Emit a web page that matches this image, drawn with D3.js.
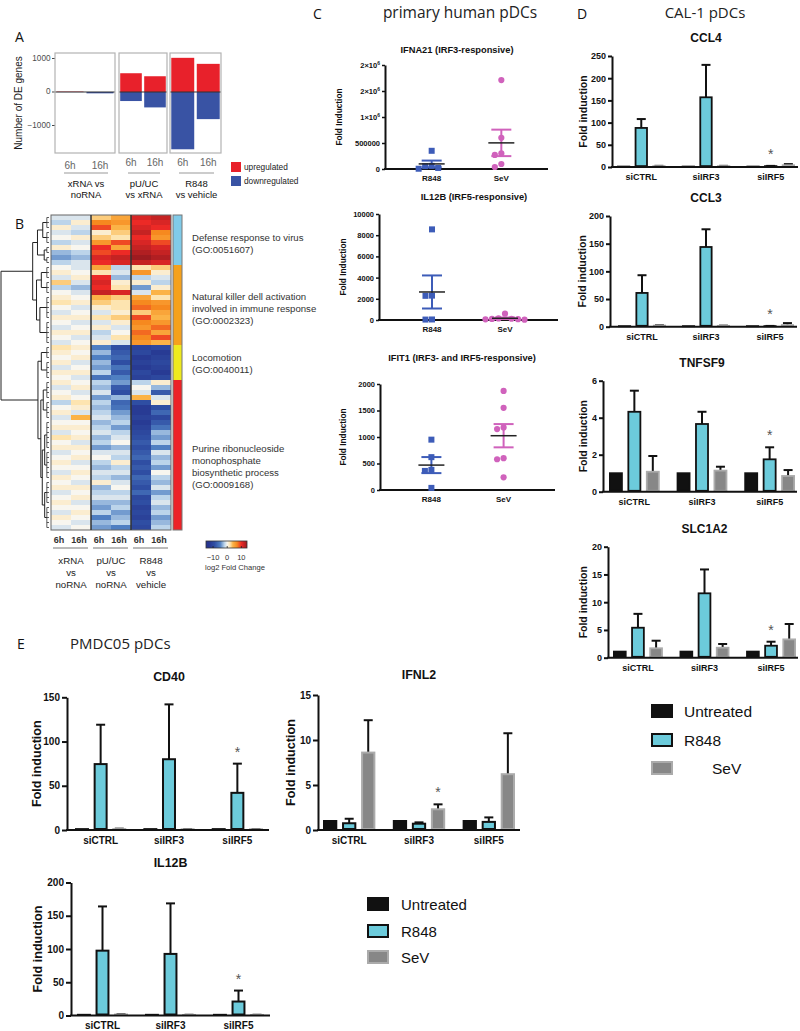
<!DOCTYPE html>
<html><head><meta charset="utf-8">
<script src="https://cdn.jsdelivr.net/npm/d3@7"></script>
<style>html,body{margin:0;padding:0;background:#fff}</style>
</head><body>
<svg id="fig" width="800" height="1031" xmlns="http://www.w3.org/2000/svg"></svg>
<script>
// ===================== DATA =====================
// Panel A
const aFacetLabels = [["xRNA vs","noRNA"],["pU/UC","vs xRNA"],["R848","vs vehicle"]];
const aTimes = ["6h","16h"];
const aUp = [[12,0],[560,470],[1020,840]];
const aDown = [[-4,-40],[-270,-460],[-1710,-810]];
const aTicks = [1000,0,-1000];
const aLegend = ["upregulated","downregulated"];

// Panel B (log2 fold change; columns: xRNA 6h,16h, pU/UC 6h,16h, R848 6h,16h)
const hmColLabels = ["6h","16h","6h","16h","6h","16h"];
const hmGroupLabels = [["xRNA","vs","noRNA"],["pU/UC","vs","noRNA"],["R848","vs","vehicle"]];
const hmRows = [
 [-1,-1,3,5,11,12],[-2,1,7,6,10,11],[1,-1,9,4,11,10],[-1,-2,1,3,12,7],[0,1,3,2,10,6],
 [-2,-1,6,9,11,9],[1,0,10,5,12,11],[-3,-2,9,10,13,12],[-4,-3,11,12,14,13],[-2,-1,10,11,12,11],
 [0,-1,5,-2,2,3],[1,0,2,-1,6,1],[-1,1,10,-3,-2,-1],[3,-1,11,1,1,-2],[-2,-3,10,2,-4,1],
 [0,-1,12,11,-1,4],[1,0,4,3,5,2],[2,1,3,2,7,6],[0,-1,1,2,8,7],[-1,0,-1,1,3,5],
 [1,1,2,3,9,4],[0,-1,-1,1,7,6],[-1,0,1,-1,6,8],[1,1,-2,0,8,5],[0,-1,-1,2,7,9],[-1,0,1,-1,6,4],
 [2,1,-5,-9,-11,-10],[1,0,-3,-8,-10,-12],[0,1,-5,-7,-12,-11],[1,-1,-3,-9,-11,-10],
 [-1,0,-4,-6,-12,-11],[1,1,-2,-8,-10,-12],[0,-1,-6,-5,-11,-10],
 [1,0,-2,-4,-2,1],[-1,1,-3,-8,0,-3],[0,-1,-1,-9,-1,-8],[1,0,-4,-3,4,-1],[-2,2,-2,-7,-9,1],
 [0,1,-3,-6,-12,-9],[1,-1,-2,-4,-12,-7],[-1,4,-1,-3,-11,-10],[0,0,-3,-2,-12,-8],[1,1,-2,-4,-11,-6],
 [-1,0,-1,-2,-10,-3],[2,1,-3,-1,-9,-4],[0,-1,-2,0,-8,-2],[1,1,-4,-3,-9,-5],[-1,0,-1,-1,-8,-1],
 [0,1,0,-2,-7,-3],[1,-1,-2,1,-9,-2],[0,0,-3,-2,-8,-4],[-1,1,-1,-1,-9,0],[1,0,-2,-3,-7,-2],
 [0,-1,1,-1,-8,-3],[1,1,-3,0,-9,-1],[-1,0,-2,-2,-7,-4],[0,1,-1,-1,-10,-2],[1,-1,-3,-3,-9,-1],
 [0,0,-4,-2,-11,-3],[-1,1,-2,-4,-10,-2],[1,0,-5,-3,-11,-4],[0,-1,-3,-2,-9,-3],[-1,0,-4,-5,-10,-2]
];
const clusterSizes = [10,16,7,30];
const goTerms = [
 ["Defense response to virus","(GO:0051607)"],
 ["Natural killer dell activation","involved in immune response","(GO:0002323)"],
 ["Locomotion","(GO:0040011)"],
 ["Purine ribonucleoside","monophosphate","biosynthetic process","(GO:0009168)"]
];
const cbTicks = [-10,0,10];
// dendrogram structure: {h: merge height, c: children}; leaf = [firstRow,lastRow]
const dendro = {h:10,c:[
 {h:3.4,c:[
   {h:2.4,c:[{h:1.3,c:[[0,2],[3,5]]},{h:1.0,c:[[6,7],[8,9]]}]},
   {h:2.6,c:[{h:1.6,c:[[10,12],[13,15]]},{h:1.9,c:[[16,20],[21,25]]}]}]},
 {h:2.3,c:[
   {h:1.6,c:[[26,28],[29,32]]},
   {h:1.7,c:[{h:1.2,c:[[33,36],[37,40]]},{h:1.4,c:[{h:0.9,c:[[41,46],[47,52]]},{h:0.9,c:[[53,57],[58,62]]}]}]}]}
]};

// Panel C
const cCats = ["R848","SeV"];
const ifna21R848 = [350000,60000,55000,20000,5000];
const ifna21SeV = [1710000,600000,300000,270000,96000,38000];
const ifna21Ticks = [0,500000,1000000,1500000,2000000];
const ifna21TickLabels = ["0","500000","1×10^6","2×10^6","2×10^6"];
const il12bCR848 = [8550,2300,2280,50,40];
const il12bCSeV = [600,150,120,100,80,60,30];
const il12bCTicks = [0,2000,4000,6000,8000,10000];
const ifit1R848 = [950,620,380,360,40];
const ifit1SeV = [1870,1550,1180,1150,600,580,240];
const ifit1Ticks = [0,500,1000,1500,2000];

// Panels D & E (rows: siCTRL, siIRF3, siIRF5; cols: Untreated, R848, SeV)
const barGroups = ["siCTRL","siIRF3","siIRF5"];
const barSeries = ["Untreated","R848","SeV"];
const ccl4Mean = [[1,88,2],[1,157,2],[1,2,4]];
const ccl4Err  = [[0,20,0.6],[0,73,0.6],[0,0.5,2.5]];
const ccl4Ticks = [0,50,100,150,200,250];
const ccl3Mean = [[1,61,2],[1,144,1.5],[1,1,3]];
const ccl3Err  = [[0,32,0.5],[0,32,0.4],[0,0.4,3.5]];
const ccl3Ticks = [0,50,100,150,200];
const tnfsf9Mean = [[1,4.32,1.08],[1,3.66,1.14],[1,1.75,0.85]];
const tnfsf9Err  = [[0,1.14,0.85],[0,0.66,0.21],[0,0.65,0.32]];
const tnfsf9Ticks = [0,2,4,6];
const slc1a2Mean = [[1.1,5.4,1.7],[1.1,11.6,1.8],[1.1,2.16,3.3]];
const slc1a2Err  = [[0,2.5,1.36],[0,4.3,0.67],[0,0.72,2.77]];
const slc1a2Ticks = [0,5,10,15,20];
const cd40Mean = [[1,74.5,1],[1,80,0.8],[1,42,0.8]];
const cd40Err  = [[0,44.5,0.5],[0,62,0.3],[0,33,0.3]];
const cd40Ticks = [0,50,100,150];
const ifnl2Mean = [[1,0.75,8.6],[1,0.7,2.3],[1,0.9,6.2]];
const ifnl2Err  = [[0,0.5,3.6],[0,0.15,0.55],[0,0.5,4.55]];
const ifnl2Ticks = [0,5,10,15];
const il12bEMean = [[1,97.5,1.5],[1,92.6,0.8],[1,21,0.8]];
const il12bEErr  = [[0,66.5,0.5],[0,76,0.3],[0,16.5,0.3]];
const il12bETicks = [0,50,100,150,200];

// ===================== DRAWING =====================
const svg = d3.select("#fig");
const FONT = '"Liberation Sans", Arial, Helvetica, sans-serif';
const TFONT = '"Open Sans", "Noto Sans", sans-serif';

function T(g, x, y, s, o = {}) {
  const t = g.append("text").attr("x", x).attr("y", y).text(s)
    .attr("font-family", o.family || FONT).attr("font-size", o.size || 10)
    .attr("font-weight", o.weight || "normal").attr("fill", o.fill || "#111")
    .attr("text-anchor", o.anchor || "start").attr("dominant-baseline", "central");
  if (o.rotate) t.attr("transform", `rotate(-90,${x},${y})`);
  return t;
}
function L(g, x1, y1, x2, y2, stroke, w) {
  return g.append("line").attr("x1", x1).attr("y1", y1).attr("x2", x2).attr("y2", y2)
    .attr("stroke", stroke).attr("stroke-width", w);
}

// ---------- Panel A ----------
(function () {
  const g = svg.append("g");
  T(g, 15, 36, "A", {size: 14, family: TFONT});
  const y = d3.scaleLinear().domain([-1821, 1164]).range([153, 53]);
  const facetX = [[55, 115], [119, 167], [170, 221]];
  aTicks.forEach(v => {
    L(g, 52, y(v), 55, y(v), "#444", 1);
    T(g, 50.5, y(v), v < 0 ? "\u2212" + Math.abs(v) : String(v), {size: 8.2, anchor: "end", fill: "#4d4d4d"});
  });
  T(g, 18, 103, "Number of DE genes", {size: 10, anchor: "middle", rotate: true, fill: "#1a1a1a"});
  aFacetLabels.forEach((lab, fi) => {
    const [x0, x1] = facetX[fi];
    const xb = d3.scaleBand().domain(aTimes).range([x0, x1]).paddingInner(0.1).paddingOuter(0.05);
    const recs = aTimes.map((t, ti) => ({t, up: aUp[fi][ti], down: aDown[fi][ti]}));
    g.selectAll(null).data(recs).join("rect")
      .attr("x", d => xb(d.t)).attr("width", xb.bandwidth())
      .attr("y", d => y(d.up)).attr("height", d => y(0) - y(d.up)).attr("fill", "#e8212b");
    g.selectAll(null).data(recs).join("rect")
      .attr("x", d => xb(d.t)).attr("width", xb.bandwidth())
      .attr("y", y(0)).attr("height", d => y(d.down) - y(0)).attr("fill", "#3953a4");
    L(g, x0, y(0), x1, y(0), "#333", 1);
    g.append("rect").attr("x", x0).attr("y", 53).attr("width", x1 - x0).attr("height", 100)
      .attr("fill", "none").attr("stroke", "#b3b3b3").attr("stroke-width", 1.2);
    aTimes.forEach(t => T(g, xb(t) + xb.bandwidth() / 2, fi === 0 ? 165 : 162, t, {size: 10, anchor: "middle", fill: "#666"}));
    L(g, x0 + 9, 173, x1 - 7, 173, "#999", 1);
    lab.forEach((s, li) => T(g, (x0 + x1) / 2 + 1, 183 + li * 11, s, {size: 9.5, anchor: "middle", fill: "#111"}));
  });
  const lc = ["#e8212b", "#3953a4"];
  aLegend.forEach((s, i) => {
    g.append("rect").attr("x", 231).attr("y", 162 + i * 14).attr("width", 10).attr("height", 10).attr("fill", lc[i]);
    T(g, 244, 167 + i * 14, s, {size: 8.3, fill: "#222"});
  });
})();

// ---------- Panel B ----------
const hmColor = d3.scaleLinear()
  .domain([-13, -9, -5, -2, 0, 2, 4, 7, 10, 14])
  .range(["#26358f", "#2f4ea3", "#4f7fc2", "#bcd4ea", "#f8f6ef", "#fde4b0", "#fbb347", "#f6891f", "#ec2a26", "#9d1b20"])
  .clamp(true);
(function () {
  const g = svg.append("g");
  T(g, 15, 223, "B", {size: 14, family: TFONT});
  const hmX = d3.scaleBand().domain(d3.range(hmColLabels.length)).range([51, 171]);
  const hmY = d3.scaleBand().domain(d3.range(hmRows.length)).range([215, 530]);
  const cells = [];
  hmRows.forEach((r, ri) => r.forEach((v, ci) => cells.push({ri, ci, v})));
  g.selectAll(null).data(cells).join("rect")
    .attr("x", d => hmX(d.ci)).attr("y", d => hmY(d.ri))
    .attr("width", hmX.bandwidth() + 0.3).attr("height", hmY.bandwidth() + 0.3)
    .attr("fill", d => hmColor(d.v)).attr("shape-rendering", "crispEdges");
  g.append("rect").attr("x", 51).attr("y", 215).attr("width", 120).attr("height", 315)
    .attr("fill", "none").attr("stroke", "#666").attr("stroke-width", 1);
  [2, 4].forEach(ci => L(g, hmX(ci), 215, hmX(ci), 530, "#333", 1.5));
  // cluster sidebar
  const cColors = ["#80cbe9", "#f5a11c", "#eeea1e", "#ec2227"];
  let start = 0;
  clusterSizes.forEach((n, i) => {
    const y0 = hmY(start), y1 = hmY(start + n - 1) + hmY.bandwidth();
    g.append("rect").attr("x", 173).attr("y", y0).attr("width", 9).attr("height", y1 - y0).attr("fill", cColors[i]);
    start += n;
  });
  g.append("rect").attr("x", 173).attr("y", 215).attr("width", 9).attr("height", 315)
    .attr("fill", "none").attr("stroke", "#777").attr("stroke-width", 1);
  // dendrogram
  const dX = d3.scaleLinear().domain([0, 10]).range([49, 1]);
  const leafH = 0.45;
  const dg = g.append("g").attr("stroke", "#222").attr("stroke-width", 1).attr("fill", "none");
  function drawNode(n) {
    if (Array.isArray(n)) {
      const ys = d3.range(n[0], n[1] + 1).map(i => hmY(i) + hmY.bandwidth() / 2);
      ys.forEach(yy => L(dg, dX(leafH), yy, dX(0), yy, "#333", 0.8));
      L(dg, dX(leafH), ys[0], dX(leafH), ys[ys.length - 1], "#333", 0.8);
      return {y: (ys[0] + ys[ys.length - 1]) / 2, h: leafH};
    }
    const kids = n.c.map(drawNode);
    kids.forEach(k => L(dg, dX(k.h), k.y, dX(n.h), k.y, "#222", 1));
    const ymin = d3.min(kids, k => k.y), ymax = d3.max(kids, k => k.y);
    L(dg, dX(n.h), ymin, dX(n.h), ymax, "#222", 1);
    return {y: (ymin + ymax) / 2, h: n.h};
  }
  drawNode(dendro);
  // GO term labels
  const goY = [237, 296, 357, 448];
  goTerms.forEach((lines, i) => lines.forEach((s, li) => T(g, 192, goY[i] + li * 12, s, {size: 9.6, fill: "#333"})));
  // column labels
  hmColLabels.forEach((s, ci) => T(g, hmX(ci) + hmX.bandwidth() / 2 - 2, 540, s, {size: 9, weight: "bold", anchor: "middle", fill: "#333"}));
  hmGroupLabels.forEach((lines, gi) => {
    const x0 = hmX(gi * 2), x1 = hmX(gi * 2 + 1) + hmX.bandwidth();
    L(g, x0 + 2, 548, x1 - 3, 548, "#777", 1);
    lines.forEach((s, li) => T(g, (x0 + x1) / 2, 560 + li * 12, s, {size: 9.7, anchor: "middle", fill: "#222"}));
  });
  // color bar
  const cbX = d3.scaleLinear().domain([-15, 14]).range([206, 247]);
  const grad = svg.append("defs").append("linearGradient").attr("id", "cbgrad");
  d3.range(-15, 14.01, 0.5).forEach(v => grad.append("stop")
    .attr("offset", (v + 15) / 29).attr("stop-color", hmColor(v)));
  g.append("rect").attr("x", 206).attr("y", 541).attr("width", 41).attr("height", 7)
    .attr("fill", "url(#cbgrad)").attr("stroke", "#333").attr("stroke-width", 0.8);
  cbTicks.forEach(v => {
    L(g, cbX(v), 546, cbX(v), 548, "#222", 0.8);
    T(g, cbX(v), 557, v < 0 ? "\u2212" + Math.abs(v) : String(v), {size: 7.5, anchor: "middle", fill: "#333"});
  });
  T(g, 205, 567, "log2 Fold Change", {size: 7.6, fill: "#333"});
})();

// ---------- Panel C ----------
T(svg, 313, 13, "C", {size: 14, family: TFONT});
T(svg, 460, 12, "primary human pDCs", {size: 15.5, family: TFONT, anchor: "middle", fill: "#222"});
const cColors = ["#3d5cb8", "#d062bc"];
function dodge(vals, y, cx, r) {
  const pts = vals.map(v => ({v, py: y(v)})).sort((a, b) => a.py - b.py);
  const placed = [];
  pts.forEach(p => {
    for (const off of [0, -1, 1, -2, 2, -3, 3, -4, 4]) {
      const px = cx + off * r * 2.1;
      if (!placed.some(q => Math.hypot(q.px - px, q.py - p.py) < r * 2.05)) { p.px = px; placed.push(p); break; }
    }
  });
  return placed;
}
function scatter(s) {
  const g = svg.append("g");
  const y = d3.scaleLinear().domain([0, s.max]).range([s.yZero, s.yTop]);
  const x = d3.scalePoint().domain(cCats).range([s.axisX, s.axisEnd]).padding(s.pad);
  const ax = g.append("g").attr("transform", `translate(${s.axisX},0)`)
    .call(d3.axisLeft(y).tickValues(s.ticks).tickSize(3).tickSizeOuter(0).tickPadding(2)
      .tickFormat((d, i) => s.labels ? s.labels[i] : String(d)));
  ax.select(".domain").attr("stroke", "#111").attr("stroke-width", 2);
  ax.selectAll(".tick line").attr("stroke", "#111").attr("stroke-width", 1.5);
  ax.selectAll(".tick text").attr("font-family", FONT).attr("font-weight", "bold").attr("font-size", 7.5).attr("fill", "#111")
    .each(function () {
      const t = d3.select(this), str = t.text();
      if (str.includes("^")) {
        const [b, e] = str.split("^");
        t.text(b);
        t.append("tspan").attr("dy", "-0.5em").attr("font-size", 5).text(e);
      }
    });
  L(g, s.axisX - 1, s.yZero, s.axisEnd, s.yZero, "#111", 2);
  cCats.forEach(c => T(g, x(c), s.yZero + 9, c, {size: 8, weight: "bold", anchor: "middle"}));
  T(g, s.titleX, s.titleY, s.title, {size: 9.3, weight: "bold", anchor: "middle"});
  T(g, s.yTitleX, (s.yZero + s.yTop) / 2, "Fold Induction", {size: 8.3, weight: "bold", anchor: "middle", rotate: true});
  cCats.forEach((c, ci) => {
    const vals = s.data[ci];
    const pts = dodge(vals, y, x(c), 3.1);
    if (ci === 0) {
      g.selectAll(null).data(pts).join("rect").attr("x", d => d.px - 3).attr("y", d => d.py - 3)
        .attr("width", 6).attr("height", 6).attr("fill", cColors[ci]);
    } else {
      g.selectAll(null).data(pts).join("circle").attr("cx", d => d.px).attr("cy", d => d.py)
        .attr("r", 3.1).attr("fill", cColors[ci]);
    }
    const m = d3.mean(vals), se = d3.deviation(vals) / Math.sqrt(vals.length);
    const cx = x(c);
    L(g, cx, y(Math.max(0, m - se)), cx, y(m + se), cColors[ci], 2);
    L(g, cx - 10, y(m + se), cx + 10, y(m + se), cColors[ci], 2);
    L(g, cx - 10, y(Math.max(0, m - se)), cx + 10, y(Math.max(0, m - se)), cColors[ci], 2);
    L(g, cx - 13, y(m), cx + 13, y(m), "#222", 1.5);
  });
}
scatter({title: "IFNA21 (IRF3-responsive)", titleX: 457, titleY: 50, axisX: 385, axisEnd: 548, pad: 0.67,
  yZero: 169, yTop: 65, max: 2000000, ticks: ifna21Ticks, labels: ifna21TickLabels, yTitleX: 339,
  data: [ifna21R848, ifna21SeV]});
scatter({title: "IL12B (IRF5-responsive)", titleX: 474, titleY: 197, axisX: 379, axisEnd: 558, pad: 0.726,
  yZero: 320, yTop: 214, max: 10000, ticks: il12bCTicks, yTitleX: 343, data: [il12bCR848, il12bCSeV]});
scatter({title: "IFIT1 (IRF3- and IRF5-responsive)", titleX: 462, titleY: 358, axisX: 380, axisEnd: 555, pad: 0.712,
  yZero: 490, yTop: 384, max: 2000, ticks: ifit1Ticks, yTitleX: 343, data: [ifit1R848, ifit1SeV]});

// ---------- Panels D & E ----------
T(svg, 577, 13, "D", {size: 14, family: TFONT});
T(svg, 705, 12, "CAL-1 pDCs", {size: 15, family: TFONT, anchor: "middle", fill: "#222"});
T(svg, 17, 643, "E", {size: 14, family: TFONT});
T(svg, 70, 643, "PMDC05 pDCs", {size: 15, family: TFONT, fill: "#222"});

const barFill = {Untreated: "#111", R848: "#6ccbdb", SeV: "#878787"};
const barStroke = {Untreated: "#111", R848: "#111", SeV: "#ababab"};
const styles = {
  D: {tickFs: 9, tick: 4, labelFs: 9, labelDy: 10, titleFs: 12, titleDy: 18, yTitleFs: 10.5, sw: 1.8},
  E: {tickFs: 10, tick: 5, labelFs: 10, labelDy: 10, titleFs: 12.4, titleDy: 20, yTitleFs: 12.6, sw: 2}
};
function barChart(s) {
  const st = styles[s.style];
  const g = svg.append("g");
  const y = d3.scaleLinear().domain([0, s.max]).range([s.yZero, s.yTop]);
  const x = d3.scaleBand().domain(barGroups).range(s.band).paddingInner(0.25).paddingOuter(0);
  const xs = d3.scaleBand().domain(barSeries).range([0, x.bandwidth()]).paddingInner(0.25).paddingOuter(0);
  const recs = [];
  barGroups.forEach((gr, gi) => barSeries.forEach((se, si) =>
    recs.push({gr, se, v: s.means[gi][si], e: s.errs[gi][si]})));
  // error bars
  const eb = recs.filter(d => d.e > 0);
  const cxf = d => x(d.gr) + xs(d.se) + xs.bandwidth() / 2;
  g.selectAll(null).data(eb).join("line").attr("x1", cxf).attr("x2", cxf)
    .attr("y1", d => y(d.v)).attr("y2", d => y(d.v + d.e)).attr("stroke", "#111").attr("stroke-width", 2);
  g.selectAll(null).data(eb).join("line").attr("x1", d => cxf(d) - 4.5).attr("x2", d => cxf(d) + 4.5)
    .attr("y1", d => y(d.v + d.e)).attr("y2", d => y(d.v + d.e)).attr("stroke", "#111").attr("stroke-width", 2);
  // bars
  g.selectAll(null).data(recs).join("rect")
    .attr("x", d => x(d.gr) + xs(d.se) + st.sw / 2).attr("width", xs.bandwidth() - st.sw)
    .attr("y", d => y(d.v)).attr("height", d => Math.max(0.1, y(0) - y(d.v) - st.sw / 2))
    .attr("fill", d => barFill[d.se]).attr("stroke", d => barStroke[d.se]).attr("stroke-width", st.sw);
  // axes
  const ax = g.append("g").attr("transform", `translate(${s.axisX},0)`)
    .call(d3.axisLeft(y).tickValues(s.ticks).tickSize(st.tick).tickSizeOuter(0).tickPadding(2)
      .tickFormat(d => String(d)));
  ax.select(".domain").attr("stroke", "#111").attr("stroke-width", 2);
  ax.selectAll(".tick line").attr("stroke", "#111").attr("stroke-width", 2);
  ax.selectAll(".tick text").attr("font-family", FONT).attr("font-weight", "bold")
    .attr("font-size", st.tickFs).attr("fill", "#111");
  L(g, s.axisX - 1, s.yZero, s.axisEnd, s.yZero, "#111", 2);
  barGroups.forEach(gr => T(g, x(gr) + x.bandwidth() / 2, s.yZero + st.labelDy, gr,
    {size: st.labelFs, weight: "bold", anchor: "middle"}));
  T(g, (s.band[0] + s.band[1]) / 2, s.yTop - st.titleDy, s.title, {size: st.titleFs, weight: "bold", anchor: "middle"});
  T(g, s.yTitleX, (s.yZero + s.yTop) / 2, "Fold induction", {size: st.yTitleFs, weight: "bold", anchor: "middle", rotate: true});
  if (s.star) {
    const [gi, si] = s.star;
    const d = {gr: barGroups[gi], se: barSeries[si]};
    const top = y(s.means[gi][si] + s.errs[gi][si]);
    g.append("text").attr("x", cxf(d)).attr("y", top - 15 + 0.57 * 14).attr("text-anchor", "middle")
      .attr("font-family", FONT).attr("font-size", 14).attr("fill", "#555").text("*");
  }
}
barChart({style: "D", title: "CCL4", max: 250, ticks: ccl4Ticks, yZero: 167, yTop: 56, axisX: 612, axisEnd: 798,
  band: [617, 795], yTitleX: 583, means: ccl4Mean, errs: ccl4Err, star: [2, 1]});
barChart({style: "D", title: "CCL3", max: 200, ticks: ccl3Ticks, yZero: 326.7, yTop: 216, axisX: 610, axisEnd: 797,
  band: [618, 794], yTitleX: 582, means: ccl3Mean, errs: ccl3Err, star: [2, 1]});
barChart({style: "D", title: "TNFSF9", max: 6, ticks: tnfsf9Ticks, yZero: 491.7, yTop: 380.7, axisX: 603, axisEnd: 797,
  band: [609, 795], yTitleX: 583, means: tnfsf9Mean, errs: tnfsf9Err, star: [2, 1]});
barChart({style: "D", title: "SLC1A2", max: 20, ticks: slc1a2Ticks, yZero: 657.7, yTop: 546.7, axisX: 608, axisEnd: 798,
  band: [613, 796], yTitleX: 583, means: slc1a2Mean, errs: slc1a2Err, star: [2, 1]});
barChart({style: "E", title: "CD40", max: 150, ticks: cd40Ticks, yZero: 830, yTop: 697.3, axisX: 67, axisEnd: 269,
  band: [75, 263], yTitleX: 37, means: cd40Mean, errs: cd40Err, star: [2, 1]});
barChart({style: "E", title: "IFNL2", max: 15, ticks: ifnl2Ticks, yZero: 830, yTop: 695, axisX: 318, axisEnd: 520,
  band: [323, 515], yTitleX: 291, means: ifnl2Mean, errs: ifnl2Err, star: [1, 2]});
barChart({style: "E", title: "IL12B", max: 200, ticks: il12bETicks, yZero: 1015.5, yTop: 882.5, axisX: 71, axisEnd: 270,
  band: [77, 264], yTitleX: 38, means: il12bEMean, errs: il12bEErr, star: [2, 1]});

// ---------- Legends ----------
function legend(bx, tops, tx, fs) {
  const g = svg.append("g");
  barSeries.forEach((s, i) => {
    g.append("rect").attr("x", bx + 1).attr("y", tops[i] + 1).attr("width", 20).attr("height", 12)
      .attr("fill", barFill[s]).attr("stroke", barStroke[s]).attr("stroke-width", 2);
    T(g, tx[i], tops[i] + 7, s, {size: fs, fill: "#111"});
  });
}
legend(651, [704, 733, 761], [684, 684, 712], 15.5);
legend(367, [897, 924, 950], [401, 401, 401], 15);
</script>
</body></html>
